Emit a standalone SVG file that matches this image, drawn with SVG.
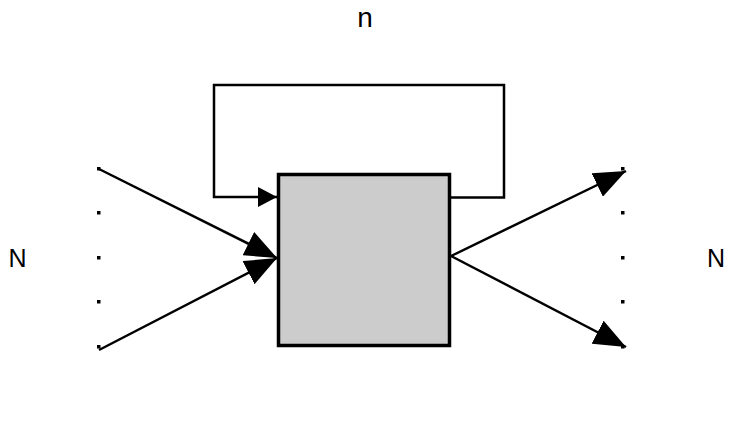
<svg xmlns="http://www.w3.org/2000/svg" width="742" height="441" viewBox="0 0 742 441">
<style>
.ln{fill:none;stroke:#000;stroke-width:2.5}
.lbl{font-family:"Liberation Sans",Arial,sans-serif;fill:#000}
.dot{fill:#000}
</style>
<defs>
<marker id="big" viewBox="0 0 32 26" refX="32" refY="13" markerWidth="32" markerHeight="26" markerUnits="userSpaceOnUse" orient="auto"><path d="M0,0 L32,13 L0,26 Z" fill="#000"/></marker>
<marker id="small" viewBox="0 0 19 20" refX="19" refY="10" markerWidth="19" markerHeight="20" markerUnits="userSpaceOnUse" orient="auto"><path d="M0,0 L19,10 L0,20 Z" fill="#000"/></marker>
</defs>
<rect width="742" height="441" fill="#fff"/>
<g id="connectors">
<polyline class="ln" points="451,197.5 504,197.5 504,85 214,85 214,197 277,197" marker-end="url(#small)"/>
<line class="ln" x1="99" y1="169" x2="277" y2="258" marker-end="url(#big)"/>
<line class="ln" x1="99" y1="350" x2="277" y2="258" marker-end="url(#big)"/>
<line class="ln" x1="451" y1="256" x2="626" y2="171" marker-end="url(#big)"/>
<line class="ln" x1="451" y1="256" x2="626" y2="347" marker-end="url(#big)"/>
</g>
<g id="block">
<rect x="278.5" y="174.5" width="171" height="171" fill="#cccccc" stroke="#000" stroke-width="3.5"/>
</g>
<g id="input-dots">
<rect class="dot" x="97" y="167" width="3.5" height="3.5"/>
<rect class="dot" x="97" y="211" width="3.5" height="3.5"/>
<rect class="dot" x="97" y="256" width="3.5" height="3.5"/>
<rect class="dot" x="97" y="300" width="3.5" height="3.5"/>
<rect class="dot" x="97" y="345" width="3.5" height="3.5"/>
</g>
<g id="output-dots">
<rect class="dot" x="621" y="167" width="3.5" height="3.5"/>
<rect class="dot" x="621" y="211" width="3.5" height="3.5"/>
<rect class="dot" x="621" y="256" width="3.5" height="3.5"/>
<rect class="dot" x="621" y="300" width="3.5" height="3.5"/>
<rect class="dot" x="621" y="345" width="3.5" height="3.5"/>
</g>
<g id="labels">
<text class="lbl" x="365" y="27" font-size="28" text-anchor="middle">n</text>
<text class="lbl" x="17.5" y="267" font-size="25" text-anchor="middle">N</text>
<text class="lbl" x="716" y="267" font-size="25" text-anchor="middle">N</text>
</g>
</svg>
